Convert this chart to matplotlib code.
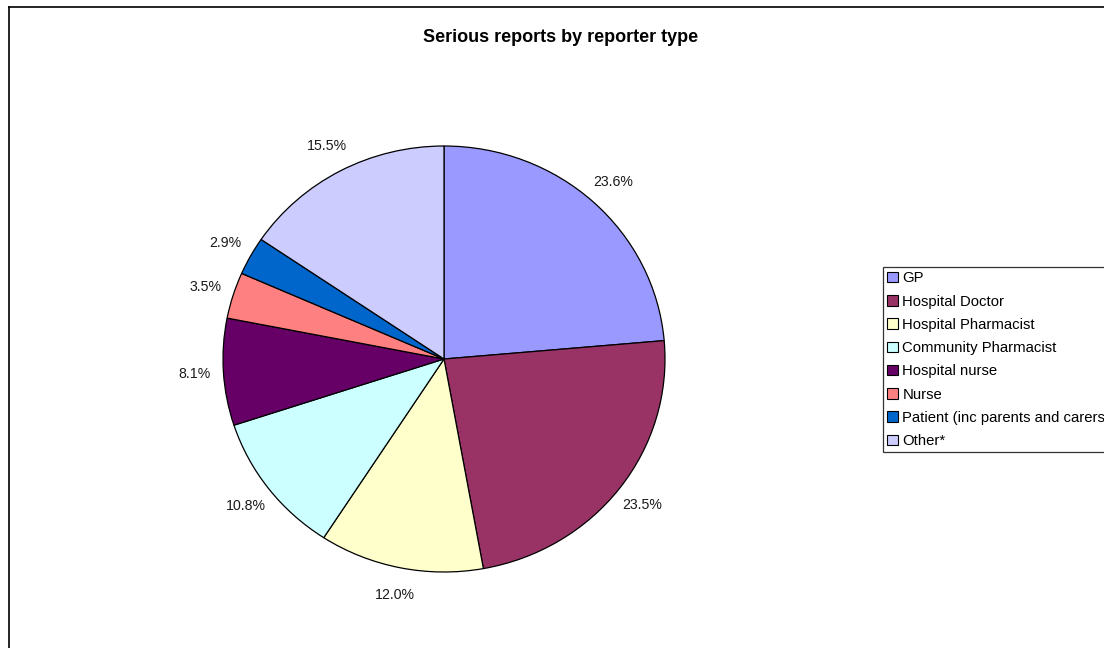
import matplotlib
matplotlib.use("Agg")
import matplotlib.pyplot as plt
from matplotlib.lines import Line2D

plt.rcParams['font.family'] = ['Liberation Sans', 'DejaVu Sans']

# --- data ---
reporters = ['GP', 'Hospital Doctor', 'Hospital Pharmacist', 'Community Pharmacist',
             'Hospital nurse', 'Nurse', 'Patient (inc parents and carers)', 'Other*']
shares = [23.6, 23.5, 12.0, 10.8, 8.1, 3.5, 2.9, 15.5]
colors = ['#9999FF', '#993366', '#FFFFCC', '#CCFFFF',
          '#660066', '#FF8080', '#0066CC', '#CCCCFF']

W, H = 1104, 648
fig = plt.figure(figsize=(W / 100, H / 100), dpi=100)

# pie axes in pixels: centre (444, 359), slightly wider than tall
cx, cy, rx, ry = 444, 359, 221, 213
ax = fig.add_axes([(cx - rx) / W, (H - cy - ry) / H, 2 * rx / W, 2 * ry / H])
wedges, texts = ax.pie(shares, colors=colors, startangle=90, counterclock=False,
                       labels=[f'{v:.1f}%' for v in shares], labeldistance=1.13,
                       wedgeprops=dict(edgecolor='black', linewidth=0.9),
                       textprops=dict(fontsize=10.2, color='#1a1a1a'))
for t in texts:
    t.set_ha('center')
    t.set_va('center')
ax.set_xlim(-1, 1)
ax.set_ylim(-1, 1)
ax.set_aspect('auto')
ax.axis('off')

fig.text(561 / W, 1 - 37 / H, 'Serious reports by reporter type',
         ha='center', va='center', fontsize=13, fontweight='bold')

leg = fig.legend(wedges, reporters, loc='upper left', bbox_to_anchor=(883 / W, 1 - 267 / H),
                 fontsize=10.7, frameon=True, fancybox=False, borderaxespad=0,
                 handlelength=0.7, handleheight=0.7, handletextpad=0.3,
                 labelspacing=0.62, borderpad=0.3)
leg.get_frame().set_edgecolor('black')
leg.get_frame().set_linewidth(0.9)
for h in leg.legend_handles:
    h.set_linewidth(0.8)

# chart area border (only the left and top edges fall inside the image)
fig.add_artist(Line2D([8.5 / W, 8.5 / W], [-0.05, 1 - 6.5 / H], color='black', lw=1.2,
                      transform=fig.transFigure))
fig.add_artist(Line2D([8.5 / W, 1.05], [1 - 6.5 / H, 1 - 6.5 / H], color='black', lw=1.2,
                      transform=fig.transFigure))

fig.savefig('out.png', dpi=100)
